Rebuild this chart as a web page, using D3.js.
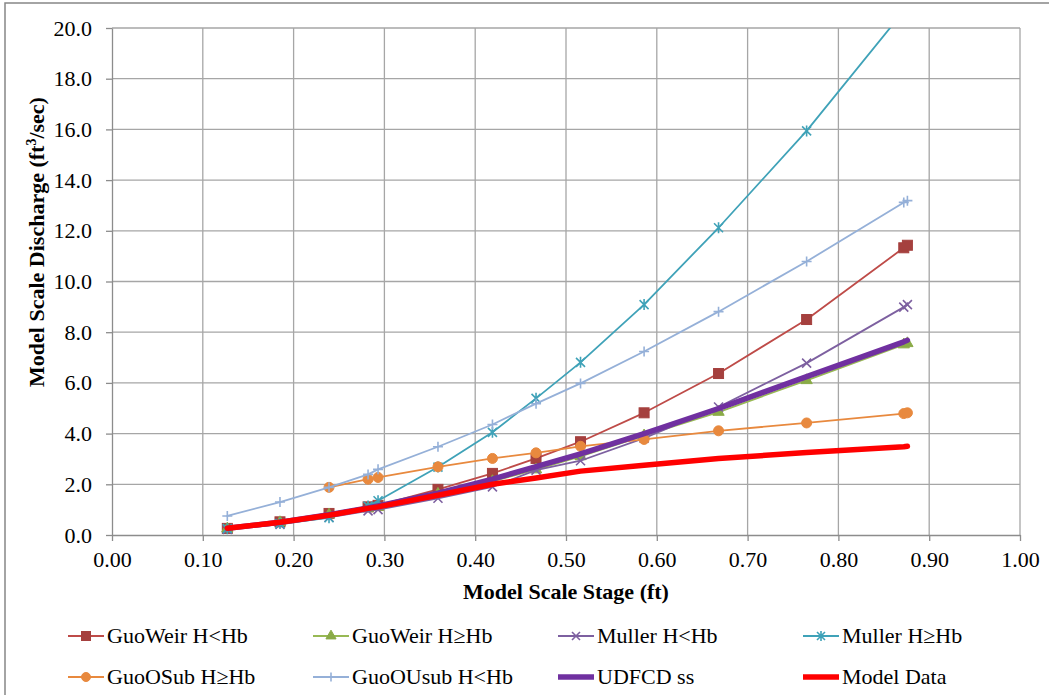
<!DOCTYPE html>
<html>
<head>
<meta charset="utf-8">
<script src="https://cdn.jsdelivr.net/npm/d3@7"></script>
<style>
  body { margin: 0; background: #fff; }
</style>
</head>
<body>
<div id="chart"></div>
<script>
// stage values (ft) shared by every series
const stage = [0.127, 0.185, 0.239, 0.282, 0.293, 0.359, 0.419, 0.467, 0.516, 0.586, 0.668, 0.765, 0.872, 0.876];

const guoWeirLow  = [0.26, 0.52, 0.85, 1.11, 1.17, 1.80, 2.43, 3.02, 3.68, 4.82, 6.37, 8.50, 11.33, 11.43];
const guoWeirHigh = [0.25, 0.50, 0.80, 1.05, 1.10, 1.62, 2.12, 2.58, 3.10, 3.92, 4.85, 6.10, 7.51, 7.56];
const mullerLow   = [0.22, 0.42, 0.70, 0.95, 1.00, 1.45, 1.90, 2.56, 2.93, 3.82, 5.05, 6.78, 8.99, 9.09];
const mullerHigh  = [0.25, 0.45, 0.68, 1.14, 1.35, 2.68, 4.05, 5.39, 6.81, 9.09, 12.12, 15.94, 20.67, 20.85];
const guoOSub     = [null, null, 1.88, 2.20, 2.27, 2.69, 3.02, 3.24, 3.50, 3.77, 4.11, 4.42, 4.79, 4.82];
const guoOUsub    = [0.75, 1.30, 1.88, 2.39, 2.59, 3.48, 4.36, 5.18, 5.98, 7.24, 8.81, 10.79, 13.12, 13.19];
const udfcd       = [0.27, 0.50, 0.80, 1.07, 1.15, 1.65, 2.20, 2.70, 3.20, 4.00, 4.99, 6.25, 7.62, 7.68];
const modelData   = [0.27, 0.50, 0.78, 1.05, 1.11, 1.57, 2.00, 2.25, 2.52, 2.75, 3.02, 3.25, 3.48, 3.50];

const xTicks = [0, 0.1, 0.2, 0.3, 0.4, 0.5, 0.6, 0.7, 0.8, 0.9, 1.0];
const yTicks = [0, 2, 4, 6, 8, 10, 12, 14, 16, 18, 20];

const series = [
  { name: "GuoWeir H<Hb", values: guoWeirLow,  color: "#BE4B48", mcolor: "#A5403E", marker: "square", w: 1.8 },
  { name: "GuoWeir H≥Hb", values: guoWeirHigh, color: "#98B954", mcolor: "#8AAB47", marker: "triangle", w: 1.8 },
  { name: "Muller H<Hb",  values: mullerLow,   color: "#7D60A0", mcolor: "#7D60A0", marker: "x", w: 1.8 },
  { name: "Muller H≥Hb",  values: mullerHigh,  color: "#3FA2B8", mcolor: "#3FA2B8", marker: "star", w: 1.8 },
  { name: "GuoOSub H≥Hb", values: guoOSub,     color: "#E8893E", mcolor: "#E8893E", marker: "circle", w: 1.8 },
  { name: "GuoOUsub H<Hb", values: guoOUsub,   color: "#95B0D8", mcolor: "#95B0D8", marker: "plus", w: 1.8 },
  { name: "UDFCD ss",     values: udfcd,       color: "#7030A0", marker: null, w: 5.5 },
  { name: "Model Data",   values: modelData,   color: "#FF0000", marker: null, w: 5.5 }
];

const FONT = "'Times New Roman', 'Liberation Serif', Tinos, 'DejaVu Serif', serif";

const width = 1049, height = 695;
const margin = { top: 28, right: 29, bottom: 160, left: 112 };
const innerW = width - margin.left - margin.right;
const innerH = height - margin.top - margin.bottom;

const svg = d3.select("#chart").append("svg")
  .attr("width", width)
  .attr("height", height)
  .attr("font-family", FONT);

// outer chart frame
svg.append("rect")
  .attr("x", 5).attr("y", 3)
  .attr("width", width + 10).attr("height", height + 10)
  .attr("fill", "#fff")
  .attr("stroke", "#878787")
  .attr("stroke-width", 1.5);

const g = svg.append("g")
  .attr("transform", "translate(" + margin.left + "," + margin.top + ")");

const x = d3.scaleLinear().domain([0, 1]).range([0, innerW]);
const y = d3.scaleLinear().domain([0, 20]).range([innerH, 0]);

// gridlines
g.append("g").selectAll("line")
  .data(yTicks.slice(1))
  .enter().append("line")
  .attr("x1", 0).attr("x2", innerW)
  .attr("y1", d => y(d)).attr("y2", d => y(d))
  .attr("stroke", "#a6a6a6").attr("stroke-width", 1.3);

g.append("g").selectAll("line")
  .data(xTicks.slice(1))
  .enter().append("line")
  .attr("x1", d => x(d)).attr("x2", d => x(d))
  .attr("y1", 0).attr("y2", innerH)
  .attr("stroke", "#a6a6a6").attr("stroke-width", 1.3);

// axes
const xAxis = g.append("g")
  .attr("transform", "translate(0," + innerH + ")")
  .call(d3.axisBottom(x).tickValues(xTicks).tickFormat(d3.format(".2f")).tickSizeInner(6).tickSizeOuter(0).tickPadding(10));
const yAxis = g.append("g")
  .call(d3.axisLeft(y).tickValues(yTicks).tickFormat(d3.format(".1f")).tickSizeInner(6).tickSizeOuter(0).tickPadding(14));

[xAxis, yAxis].forEach(a => {
  a.attr("font-family", FONT).attr("font-size", 22);
  a.select(".domain").attr("stroke", "#8c8c8c").attr("stroke-width", 1.3);
  a.selectAll(".tick line").attr("stroke", "#8c8c8c").attr("stroke-width", 1.3);
  a.selectAll(".tick text").attr("fill", "#000");
});

// axis titles
svg.append("text")
  .attr("x", margin.left + x(0.5))
  .attr("y", 599)
  .attr("text-anchor", "middle")
  .attr("font-size", 22)
  .attr("font-weight", "bold")
  .text("Model Scale Stage (ft)");

const yTitle = svg.append("text")
  .attr("transform", "translate(44,242) rotate(-90)")
  .attr("text-anchor", "middle")
  .attr("font-size", 22)
  .attr("font-weight", "bold");
yTitle.append("tspan").text("Model Scale Discharge (ft");
yTitle.append("tspan").attr("dy", -8).attr("font-size", 14).text("3");
yTitle.append("tspan").attr("dy", 8).text("/sec)");

// clip the plot area
svg.append("defs").append("clipPath").attr("id", "plotClip")
  .append("rect").attr("x", -2).attr("y", 0).attr("width", innerW + 4).attr("height", innerH + 2);

const plot = g.append("g").attr("clip-path", "url(#plotClip)");

function drawMarker(sel, type, color, s) {
  if (type === "square") {
    sel.append("rect").attr("x", -s / 2).attr("y", -s / 2).attr("width", s).attr("height", s)
      .attr("fill", color).attr("stroke", color);
  } else if (type === "triangle") {
    sel.append("path").attr("d", d3.symbol(d3.symbolTriangle, s * s * 0.55)())
      .attr("fill", color).attr("stroke", color);
  } else if (type === "circle") {
    sel.append("circle").attr("r", s / 2).attr("fill", color).attr("stroke", color);
  } else if (type === "x" || type === "star") {
    const h = s / 2 - 0.5;
    sel.append("path").attr("d", `M${-h},${-h}L${h},${h}M${-h},${h}L${h},${-h}` + (type === "star" ? `M0,${-h - 1}L0,${h + 1}` : ""))
      .attr("stroke", color).attr("stroke-width", 1.6).attr("fill", "none");
  } else if (type === "plus") {
    const h = s / 2;
    sel.append("path").attr("d", `M${-h},0L${h},0M0,${-h}L0,${h}`)
      .attr("stroke", color).attr("stroke-width", 1.6).attr("fill", "none");
  }
}

const line = d3.line()
  .defined(d => d.v !== null)
  .x(d => x(d.s))
  .y(d => y(d.v));

series.forEach(sr => {
  const pts = stage.map((s, i) => ({ s: s, v: sr.values[i] }));
  plot.append("path")
    .datum(pts)
    .attr("fill", "none")
    .attr("stroke", sr.color)
    .attr("stroke-width", sr.w)
    .attr("stroke-linejoin", "round")
    .attr("stroke-linecap", "round")
    .attr("d", line);
  if (sr.marker) {
    plot.selectAll(null)
      .data(pts.filter(d => d.v !== null && d.v <= 20))
      .enter().append("g")
      .attr("transform", d => "translate(" + x(d.s) + "," + y(d.v) + ")")
      .each(function () { drawMarker(d3.select(this), sr.marker, sr.mcolor, 10); });
  }
});

// legend
const legCols = [68, 313, 558, 803];
const legRows = [636, 677];
series.forEach((sr, i) => {
  const lx = legCols[i % 4], ly = legRows[Math.floor(i / 4)];
  const lg = svg.append("g").attr("transform", "translate(" + lx + "," + ly + ")");
  lg.append("line").attr("x1", 0).attr("x2", 36).attr("y1", 0).attr("y2", 0)
    .attr("stroke", sr.color).attr("stroke-width", sr.w);
  if (sr.marker) {
    const m = lg.append("g").attr("transform", "translate(18,0)");
    drawMarker(m, sr.marker, sr.mcolor, 9);
  }
  lg.append("text").attr("x", 39).attr("y", 7)
    .attr("font-size", 22)
    .text(sr.name);
});
</script>
</body>
</html>
